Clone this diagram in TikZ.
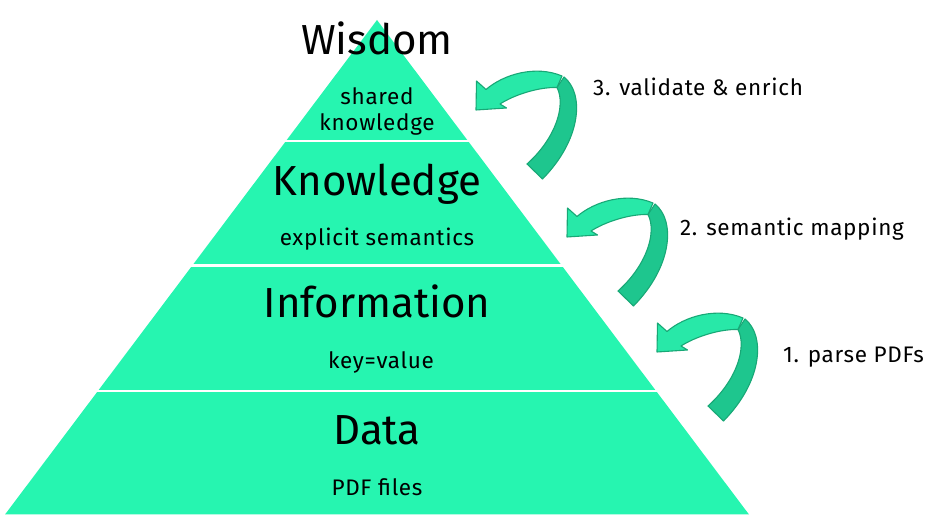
\documentclass[tikz,border=0pt]{standalone}
\usepackage{fontspec}
\setmainfont{Fira Sans}
\newfontfamily\smallfam[LetterSpace=3]{Fira Sans}
\definecolor{mint}{RGB}{38,245,176}
\definecolor{arrfront}{RGB}{40,232,168}
\definecolor{arrback}{RGB}{30,198,142}
\definecolor{arredge}{RGB}{24,168,118}
\tikzset{
  big/.style={anchor=base, inner sep=0pt, font=\fontsize{42}{46}\selectfont},
  small/.style={anchor=base, inner sep=0pt, font=\smallfam\fontsize{22.5}{26}\selectfont},
  sep/.style={draw=white, line width=2.8pt},
  curl/.pic={
    \filldraw[fill=arrback, draw=arredge, line width=1.1pt, line join=round]
      (81,22.5) .. controls (90,5) and (80,-28) .. (51,-54) -- (66.5,-69)
      .. controls (105,-30) and (109,16) .. (88,33) -- cycle;
    \filldraw[fill=arrfront, draw=arredge, line width=1.1pt, line join=round]
      (0,0) -- (0.5,29) -- (10,20.5) .. controls (28,36) and (60,45) .. (86,34)
      -- (81,22.5) .. controls (62,23) and (38,15) .. (24,6) -- (30.5,2) -- cycle;
  }
}
\begin{document}
\begin{tikzpicture}[x=1pt,y=1pt]
\useasboundingbox (0,0) rectangle (943,516);
\fill[mint] (5,1.5) coordinate (bl) -- (749,1.5) coordinate (br) -- (377,496) coordinate (apex) -- cycle;
\coordinate (s1l) at (0,375); \coordinate (s1r) at (760,375);
\coordinate (s2l) at (0,250.5); \coordinate (s2r) at (760,250.5);
\coordinate (s3l) at (0,125); \coordinate (s3r) at (760,125);
\draw[sep] (s1l) -- (s1r);
\draw[sep] (s2l) -- (s2r);
\draw[sep] (s3l) -- (s3r);
\node[big] (wisdom) at (377,461) {Wisdom};
\node[small] (shared) at (377,411) {shared};
\node[small] (sharedk) at (377,385) {knowledge};
\node[big] (knowledge) at (377,320) {Knowledge};
\node[small] (explicit) at (377,270) {explicit semantics};
\node[big] (information) at (377,198) {Information};
\node[small] (keyvalue) at (381,147) {key=value};
\node[big] (data) at (377,71) {Data};
\node[small] (pdf) at (377,20) {PDF files};
\node[small, anchor=base west] (l3) at (593,420) {3. validate \& enrich};
\node[small, anchor=base west] (l2) at (680,280) {2. semantic mapping};
\node[small, anchor=base west] (l1) at (783,153) {1. parse PDFs};
\pic at (476,406) {curl};
\pic at (567,279) {curl};
\pic at (657,164) {curl};
\end{tikzpicture}
\end{document}
